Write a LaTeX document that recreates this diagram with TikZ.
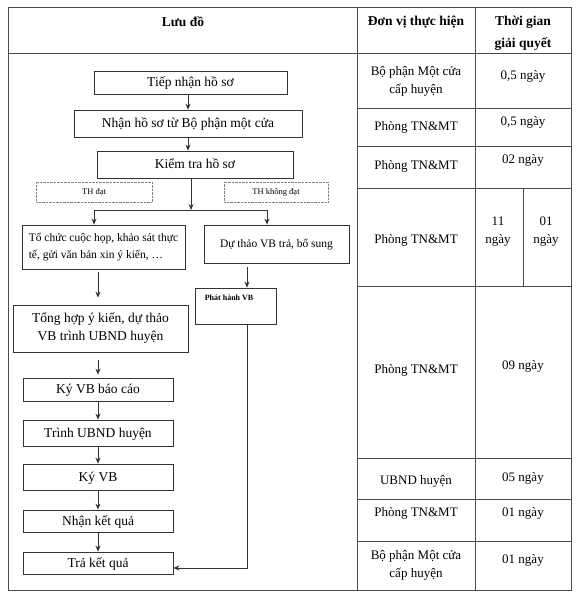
\documentclass[tikz,border=0pt]{standalone}
\usepackage{fontspec}
\setmainfont{Liberation Serif}
\usetikzlibrary{arrows.meta}
\begin{document}
\begin{tikzpicture}[x=1pt,y=-1pt,
  grid/.style={black!70,line width=0.7pt},
  flow/.style={draw,black!80,line width=0.7pt,text=black,inner sep=0pt,align=center,font=\fontsize{13.5}{18}\selectfont},
  oneline/.style={flow,text height=10pt,text depth=2pt},
  smallflow/.style={flow,font=\fontsize{11.5}{17}\selectfont},
  thbox/.style={draw,gray,densely dotted,text=black,inner sep=0pt,minimum height=20pt,font=\fontsize{8.5}{10}\selectfont},
  cell/.style={inner sep=0pt,align=center,font=\fontsize{13}{18}\selectfont},
  head/.style={cell,font=\bfseries\fontsize{13.5}{22}\selectfont},
  arr/.style={black!80,line width=0.7pt,-{Stealth[length=6pt,width=5pt]}}]
\useasboundingbox (0,0) rectangle (576,599);
% table frame
\draw[grid] (8,7) rectangle (571,590);
\draw[grid] (8,53) -- (571,53);
\draw[grid] (357,7) -- (357,590);
\draw[grid] (475,7) -- (475,590);
\draw[grid] (523,188) -- (523,286);
\foreach \y in {108,146,188,286,458,499,541}{\draw[grid] (357,\y) -- (571,\y);}
% header
\node[head] (hluudo) at (183,22) {Lưu đồ};
\node[head] (hdonvi) at (416,22) {Đơn vị thực hiện};
\node[head] (hthoigian) at (523,33) {Thời gian\\giải quyết};
% units and times
\foreach \n/\y/\dv in {1/81/{Bộ phận Một cửa\\cấp huyện},2/127/{Phòng TN\&MT},3/166/{Phòng TN\&MT},4/240/{Phòng TN\&MT},
  5/370/{Phòng TN\&MT},6/481/{UBND huyện},7/513/{Phòng TN\&MT},8/565/{Bộ phận Một cửa\\cấp huyện}}{
  \node[cell] (dv\n) at (416,\y) {\dv};}
\foreach \n/\y/\tg in {1/76/{0,5},2/122/{0,5},3/160/02,5/366/09,6/478/05,7/513/01,8/560/01}{
  \node[cell] (tg\n) at (523,\y) {\tg{} ngày};}
\node[cell] (tg4a) at (498,232) {11\\ngày};
\node[cell] (tg4b) at (546,232) {01\\ngày};
% flow chart
\node[oneline,minimum width=193pt,minimum height=23pt] (tiepnhan) at (190.5,82.5) {Tiếp nhận hồ sơ};
\node[oneline,minimum width=228pt,minimum height=27pt] (nhanhs) at (188,123.5) {Nhận hồ sơ từ Bộ phận một cửa};
\node[oneline,minimum width=196pt,minimum height=27pt] (kiemtra) at (195,164.5) {Kiểm tra hồ sơ};
\node[thbox,minimum width=116pt] (thdat) at (94,192) {TH đạt};
\node[thbox,minimum width=104pt] (thkhong) at (276,192) {TH không đạt};
\node[smallflow,align=left,minimum width=163pt,minimum height=44pt] (tochuc) at (103.5,247) {Tổ chức cuộc họp, khảo sát thực\\tế, gửi văn bản xin ý kiến, …};
\node[smallflow,text height=8.5pt,text depth=2pt,minimum width=145pt,minimum height=38pt] (duthao) at (276.5,244) {Dự thảo VB trả, bổ sung};
\node[flow,minimum width=81pt,minimum height=36pt,
  label={[anchor=west,inner sep=0pt,xshift=10pt,yshift=-10pt,font=\bfseries\fontsize{8}{10}\selectfont]north west:Phát hành VB}] (phathanh) at (235.5,306) {};
\node[flow,minimum width=175pt,minimum height=47pt] (tonghop) at (100.5,328.5) {Tổng hợp ý kiến, dự thảo\\VB trình UBND huyện};
\node[oneline,minimum width=150pt,minimum height=23pt] (kyvbbc) at (98,389.5) {Ký VB báo cáo};
\node[oneline,minimum width=150pt,minimum height=26pt] (trinh) at (98,433) {Trình UBND huyện};
\node[oneline,minimum width=150pt,minimum height=26pt] (kyvb) at (98,477) {Ký VB};
\node[oneline,minimum width=150pt,minimum height=22pt] (nhankq) at (98,521) {Nhận kết quả};
\node[oneline,minimum width=150pt,minimum height=22pt] (trakq) at (98,563) {Trả kết quả};
\coordinate (split) at (191,210);
\coordinate (splitL) at (94,210);
\coordinate (splitR) at (267,210);
\coordinate (ret) at (247,568);
% connectors
\draw[arr] (nhanhs.north |- tiepnhan.south) -- (nhanhs.north);
\draw[arr] (nhanhs.south) -- (nhanhs.south |- kiemtra.north);
\draw[arr] (split |- kiemtra.south) -- (split);
\draw[black!80,line width=0.7pt] (splitL) -- (splitR);
\draw[arr] (splitL) -- (splitL |- tochuc.north);
\draw[arr] (splitR) -- (splitR |- duthao.north);
\draw[arr] ([yshift=-3pt]kyvbbc.north |- tochuc.south) -- ([yshift=7pt]kyvbbc.north |- tonghop.north);
\draw[arr] ([yshift=-8pt]kyvbbc.north |- tonghop.south) -- ([yshift=3pt]kyvbbc.north);
\foreach \a/\b in {kyvbbc/trinh,trinh/kyvb,kyvb/nhankq,nhankq/trakq}{\draw[arr] (\a) -- (\b);}
\draw[arr] ([yshift=-4pt]ret |- duthao.south) -- (ret |- phathanh.north);
\draw[arr] (ret |- phathanh.south) -- (ret) -- (trakq.east |- ret);
\end{tikzpicture}
\end{document}
